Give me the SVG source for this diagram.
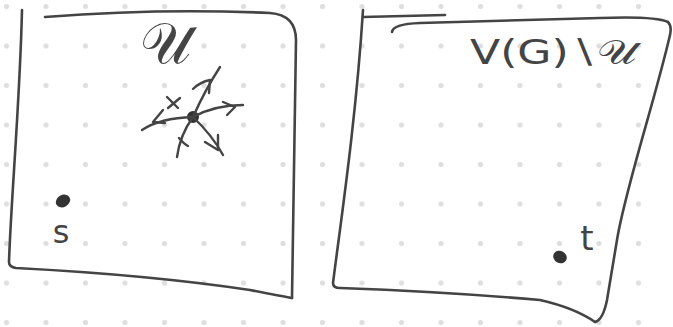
<svg xmlns="http://www.w3.org/2000/svg" width="673" height="327" viewBox="0 0 673 327">
<style>
.ln{fill:none;stroke:#444;stroke-width:2.6;stroke-linecap:round;stroke-linejoin:round}
.ar{fill:none;stroke:#444;stroke-width:2.4;stroke-linecap:round;stroke-linejoin:round}
.tx{font-family:"DejaVu Sans","Liberation Sans",sans-serif;fill:#444}
.pt{fill:#333}
</style>
<defs>
<pattern id="grid" x="0" y="0" width="39.5" height="39.5" patternUnits="userSpaceOnUse">
<circle cx="6.5" cy="6.5" r="2.6" fill="#dedede"/>
</pattern>
</defs>
<rect width="673" height="327" fill="#fff"/>
<rect width="673" height="327" fill="url(#grid)"/>
<g id="box-U">
<path class="ln" d="M22,10 C20,100 11,200 9,262 Q9,267 16,268 Q150,275 250,290 Q280,296 292,298"/>
<path class="ln" d="M45,17 Q160,8 270,13 Q296,15 296,40 Q294,150 292,298"/>
<text class="tx" x="165" y="63" font-size="57" text-anchor="middle">𝒰</text>
</g>
<g id="box-rest">
<path class="ln" d="M363,10 C356,120 341,220 333,283 Q333,288 340,288 Q450,292 540,300 Q575,308 595,322"/>
<path class="ln" d="M363,17 L445,15"/>
<path class="ln" d="M392,32 Q393,24 420,23 L600,18 Q655,16 668,22 Q672,26 670,35 C655,100 625,190 617,240 L607,300 Q603,320 595,322"/>
<text class="tx" x="470" y="64" font-size="34" textLength="167" lengthAdjust="spacingAndGlyphs">V(G)∖𝒰</text>
</g>
<g id="node-s">
<ellipse class="pt" cx="63" cy="201" rx="7.5" ry="6" transform="rotate(-30 63 201)"/>
<text class="tx" x="61" y="243" font-size="32" text-anchor="middle">s</text>
</g>
<g id="node-t">
<ellipse class="pt" cx="560" cy="257" rx="7" ry="6" transform="rotate(30 560 257)"/>
<text class="tx" x="587" y="250" font-size="34" text-anchor="middle">t</text>
</g>
<g id="node-center">
<circle class="pt" cx="193" cy="117" r="6"/>
</g>
<g id="connectors">
<path class="ar" d="M193,117 Q205,90 220,67"/>
<path class="ar" d="M193,89 Q200,82 210,80 L209,93"/>
<path class="ar" d="M193,117 Q215,105 243,105"/>
<path class="ar" d="M223,102 L235,107 L227,115"/>
<path class="ar" d="M193,117 Q212,135 223,155"/>
<path class="ar" d="M205,142 L218,150 L218,135"/>
<path class="ar" d="M193,117 Q180,135 177,157"/>
<path class="ar" d="M179,138 Q184,144 188,146"/>
<path class="ar" d="M193,117 Q160,118 142,130"/>
<path class="ar" d="M163,110 L153,122 L165,123"/>
<path class="ar" d="M167,97 L178,108 M168,108 L180,98"/>
</g>
</svg>
